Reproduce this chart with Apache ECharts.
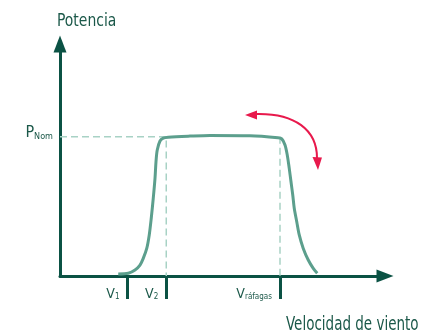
<!DOCTYPE html>
<html>
<head>
<meta charset="utf-8">
<script src="https://cdn.jsdelivr.net/npm/echarts@6/dist/echarts.min.js"></script>
<style>
  html, body { margin: 0; padding: 0; background: #fff; }
  #chart { width: 437px; height: 335px; }
</style>
</head>
<body>
<div id="chart"></div>
<script>
// curva de potencia (unidades arbitrarias)
const curveX = [2.33, 2.73, 3.0, 3.2, 3.33, 3.47, 3.57, 3.65, 3.73, 3.8, 3.84, 3.89, 4.0, 4.13, 4.33, 5.2, 6.0, 7.6,
  8.72, 8.87, 9.0, 9.09, 9.17, 9.24, 9.31, 9.37, 9.47, 9.57, 9.73, 9.93, 10.13, 10.29];
const curveY = [0.09, 0.12, 0.26, 0.47, 0.76, 1.19, 1.77, 2.49, 3.35, 4.21, 4.93, 5.43, 5.82, 5.94, 5.98, 6.03, 6.06, 6.05,
  5.96, 5.91, 5.65, 5.22, 4.64, 4.06, 3.49, 2.92, 2.34, 1.77, 1.19, 0.69, 0.33, 0.12];

// velocidades marcadas en el eje x
const tickValues = [2.7, 4.25, 8.8];
const tickLabels = ['V{s|1}', 'V{s|2}', 'V{s|ráfagas}'];

// potencia nominal
const pNom = 6;
const pNomLabel = 'P{s|Nom}';

const xName = 'Velocidad de viento';
const yName = 'Potencia';

const FONT = "'DejaVu Sans Condensed', 'DejaVu Sans', sans-serif";
const DARK = '#0b5244';
const TEXT = '#1b5849';
const CURVE = '#5c9f8d';
const GUIDE = '#a8d2c5';
const RED = '#e8194c';

const chart = echarts.init(document.getElementById('chart'));

chart.setOption({
  animation: false,
  grid: { left: 60, right: 52, top: 44, bottom: 59, outerBoundsMode: 'none' },
  xAxis: {
    type: 'value',
    min: 0,
    max: 13,
    splitLine: { show: false },
    axisLine: {
      lineStyle: { color: DARK, width: 3 },
      symbol: ['none', 'triangle'],
      symbolSize: [13, 17]
    },
    axisTick: {
      customValues: tickValues,
      length: 23,
      lineStyle: { color: DARK, width: 3 }
    },
    axisLabel: {
      customValues: tickValues,
      formatter: v => tickLabels[tickValues.indexOf(v)],
      align: 'right',
      margin: 11,
      padding: [0, 8, 0, 0],
      color: TEXT,
      fontFamily: FONT,
      fontSize: 14,
      lineHeight: 14,
      rich: {
        s: { fontFamily: FONT, fontSize: 8, lineHeight: 10, verticalAlign: 'bottom', color: TEXT }
      }
    }
  },
  yAxis: {
    type: 'value',
    min: 0,
    max: 10,
    splitLine: { show: false },
    axisLine: {
      lineStyle: { color: DARK, width: 3 },
      symbol: ['none', 'triangle'],
      symbolSize: [13, 17]
    },
    axisTick: { show: false },
    axisLabel: {
      customValues: [pNom],
      formatter: () => pNomLabel,
      margin: 7,
      color: TEXT,
      fontFamily: FONT,
      fontSize: 16,
      lineHeight: 16,
      padding: [0, 0, 8, 0],
      rich: {
        s: { fontFamily: FONT, fontSize: 9, lineHeight: 11, verticalAlign: 'bottom', color: TEXT }
      }
    }
  },
  series: [
    {
      type: 'line',
      data: [[0, pNom], [tickValues[1], pNom], [tickValues[1], 0]],
      symbol: 'none',
      silent: true,
      z: 1,
      lineStyle: { color: GUIDE, width: 1.5, type: [7, 4] }
    },
    {
      type: 'line',
      data: [[tickValues[2], pNom], [tickValues[2], 0]],
      symbol: 'none',
      silent: true,
      z: 1,
      lineStyle: { color: GUIDE, width: 1.5, type: [7, 4] }
    },
    {
      type: 'line',
      data: curveX.map((x, i) => [x, curveY[i]]),
      symbol: 'none',
      smooth: 0.3,
      z: 3,
      lineStyle: { color: CURVE, width: 3 }
    }
  ],
  graphic: [
    {
      type: 'text',
      x: 57,
      y: 21,
      scaleX: 0.86,
      style: { text: yName, fontFamily: FONT, fontSize: 18, fill: TEXT, align: 'left', verticalAlign: 'middle' }
    },
    {
      type: 'text',
      x: 286,
      y: 325,
      scaleX: 0.79,
      style: { text: xName, fontFamily: FONT, fontSize: 19, fill: TEXT, align: 'left', verticalAlign: 'middle' }
    },
    {
      type: 'bezierCurve',
      shape: { x1: 256, y1: 114, cpx1: 295, cpy1: 113, cpx2: 317, cpy2: 130, x2: 317, y2: 158 },
      style: { stroke: RED, lineWidth: 2, fill: null }
    },
    {
      type: 'polygon',
      shape: { points: [[245, 115], [257, 110.5], [257, 119.5]] },
      style: { fill: RED }
    },
    {
      type: 'polygon',
      shape: { points: [[318, 170], [312.5, 157], [322, 157.5]] },
      style: { fill: RED }
    }
  ]
});
</script>
</body>
</html>
